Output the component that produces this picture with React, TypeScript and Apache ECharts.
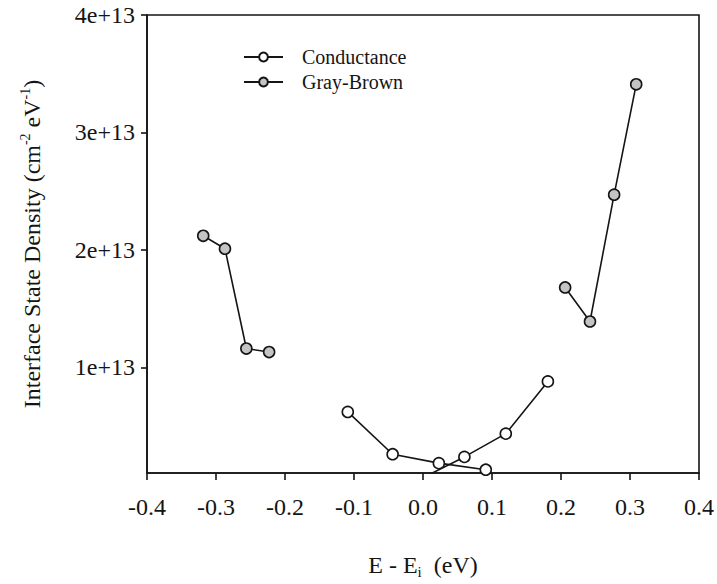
import React, { useEffect, useRef } from "react";
import * as echarts from "echarts";

// Interface state density vs. energy relative to intrinsic level
const conductanceDown: [number, number][] = [
  [-0.109, 6.2e12],
  [-0.044, 2.6e12],
  [0.023, 1.84e12],
  [0.091, 1.28e12],
];
const conductanceUp: [number, number][] = [
  [0.0, 0.6e12],
  [0.06, 2.37e12],
  [0.12, 4.35e12],
  [0.181, 8.8e12],
];
const grayBrownLow: [number, number][] = [
  [-0.3185, 2.12e13],
  [-0.287, 2.01e13],
  [-0.256, 1.16e13],
  [-0.223, 1.13e13],
];
const grayBrownHigh: [number, number][] = [
  [0.206, 1.68e13],
  [0.242, 1.39e13],
  [0.277, 2.47e13],
  [0.309, 3.41e13],
];
const yTicks = [1e13, 2e13, 3e13, 4e13];
const yTickLabels = ["1e+13", "2e+13", "3e+13", "4e+13"];

const FONT = "'Liberation Serif', 'Times New Roman', serif";
const INK = "#151515";

export default function App() {
  const ref = useRef<HTMLDivElement>(null);

  useEffect(() => {
    if (!ref.current) return;
    const chart = echarts.init(ref.current, undefined, { renderer: "svg" });

    const lineStyle = { color: INK, width: 1.6 };
    const openMarker = { color: "#ffffff", borderColor: INK, borderWidth: 1.6 };
    const grayMarker = { color: "#c4c4c4", borderColor: INK, borderWidth: 1.6 };
    const mk = (name: string, data: [number, number][], itemStyle: any, z: number) => ({
      type: "line",
      name,
      data,
      symbol: "circle",
      symbolSize: 11,
      showSymbol: true,
      lineStyle,
      itemStyle,
      z,
      emphasis: { disabled: true },
    });

    chart.setOption({
      animation: false,
      backgroundColor: "#ffffff",
      textStyle: { fontFamily: FONT, color: INK },
      grid: {
        left: 147,
        top: 15,
        width: 554,
        height: 465,
        show: true,
        borderColor: INK,
        borderWidth: 1.6,
        backgroundColor: "transparent",
      },
      legend: {
        orient: "vertical",
        left: 243,
        top: 47,
        padding: 0,
        itemWidth: 39,
        itemHeight: 11,
        itemGap: 5,
        data: ["Conductance", "Gray-Brown"],
        textStyle: { fontFamily: FONT, fontSize: 20, color: INK, padding: [0, 0, 0, 14] },
      },
      xAxis: {
        type: "value",
        min: -0.4,
        max: 0.4,
        interval: 0.1,
        axisLine: { show: true, onZero: false, lineStyle: { color: INK, width: 1.6 } },
        axisTick: { show: true, inside: false, length: 7, lineStyle: { color: INK, width: 1.6 } },
        splitLine: { show: false },
        axisLabel: {
          fontFamily: FONT,
          fontSize: 24,
          color: INK,
          margin: 22,
          formatter: (v: number) => (Math.abs(v) < 1e-9 ? "0.0" : v.toFixed(1)),
        },
        name: "{t|E - E}{s|i}{t|  (eV)}",
        nameLocation: "middle",
        nameGap: 78,
        nameTextStyle: {
          rich: {
            t: { fontFamily: FONT, fontSize: 24, color: INK, lineHeight: 28 },
            s: { fontFamily: FONT, fontSize: 15, color: INK, lineHeight: 15, verticalAlign: "bottom" },
          },
        },
      },
      yAxis: {
        type: "value",
        min: 1e12,
        max: 4e13,
        axisLine: { show: true, onZero: false, lineStyle: { color: INK, width: 1.6 } },
        axisTick: {
          show: true,
          length: 6,
          customValues: yTicks,
          lineStyle: { color: INK, width: 1.6 },
        },
        splitLine: { show: false },
        axisLabel: {
          fontFamily: FONT,
          fontSize: 24,
          color: INK,
          margin: 12,
          customValues: yTicks,
          formatter: (v: number) => {
            const i = yTicks.findIndex((t) => Math.abs(t - v) < 1e9);
            return i >= 0 ? yTickLabels[i] : "";
          },
        },
        name: "{t|Interface State Density (cm}{s|-2}{t| eV}{s|-1}{t|)}",
        nameLocation: "middle",
        nameRotate: 90,
        nameGap: 101,
        nameTextStyle: {
          rich: {
            t: { fontFamily: FONT, fontSize: 24, color: INK, lineHeight: 28 },
            s: { fontFamily: FONT, fontSize: 14, color: INK, lineHeight: 14, verticalAlign: "top" },
          },
        },
      },
      series: [
        mk("Conductance", conductanceDown, openMarker, 3),
        mk("Conductance", conductanceUp, openMarker, 3),
        mk("Gray-Brown", grayBrownLow, grayMarker, 4),
        mk("Gray-Brown", grayBrownHigh, grayMarker, 4),
      ],
    });

    return () => chart.dispose();
  }, []);

  return (
    <div
      ref={ref}
      style={{ position: "fixed", left: 0, top: 0, width: 717, height: 584, background: "#fff" }}
    />
  );
}
